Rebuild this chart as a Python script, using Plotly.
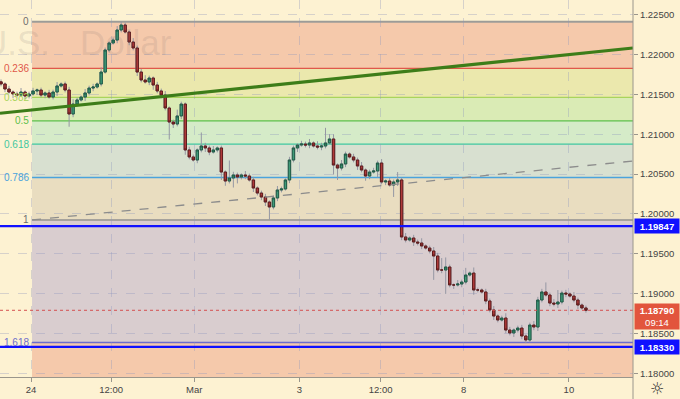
import plotly.graph_objects as go

# ---------------- data ----------------
closes = [
    1.21633, 1.21570, 1.21532, 1.21507, 1.21494, 1.21532, 1.21482, 1.21507, 1.21545, 1.21557,
    1.21494, 1.21520, 1.21469, 1.21532, 1.21608, 1.21633, 1.21557, 1.21256, 1.21381, 1.21432,
    1.21469, 1.21520, 1.21582, 1.21595, 1.21633, 1.21783, 1.22060, 1.22148, 1.22185, 1.22311,
    1.22374, 1.22286, 1.22160, 1.22085, 1.21783, 1.21683, 1.21658, 1.21708, 1.21620, 1.21545,
    1.21494, 1.21331, 1.21155, 1.21130, 1.21231, 1.21381, 1.20804, 1.20716, 1.20678, 1.20804,
    1.20854, 1.20829, 1.20778, 1.20804, 1.20829, 1.20527, 1.20414, 1.20452, 1.20490, 1.20464,
    1.20490, 1.20477, 1.20427, 1.20326, 1.20263, 1.20213, 1.20150, 1.20088, 1.20201, 1.20301,
    1.20314, 1.20427, 1.20678, 1.20829, 1.20866, 1.20879, 1.20866, 1.20892, 1.20854, 1.20841,
    1.20854, 1.20892, 1.20942, 1.20615, 1.20577, 1.20628, 1.20753, 1.20716, 1.20678, 1.20603,
    1.20552, 1.20477, 1.20527, 1.20540, 1.20640, 1.20402, 1.20414, 1.20364, 1.20402, 1.20427,
    1.19711, 1.19673, 1.19698, 1.19648, 1.19635, 1.19598, 1.19572, 1.19535, 1.19472, 1.19296,
    1.19296, 1.19334, 1.19108, 1.19108, 1.19120, 1.19145, 1.19233, 1.19258, 1.19045, 1.19045,
    1.19020, 1.18907, 1.18794, 1.18718, 1.18668, 1.18693, 1.18542, 1.18505, 1.18542, 1.18567,
    1.18467, 1.18417, 1.18605, 1.18580, 1.18919, 1.19020, 1.18982, 1.18881, 1.18869, 1.18894,
    1.19007, 1.18995, 1.18969, 1.18919, 1.18856, 1.18819, 1.18790,
]
first_open = 1.21660

upper_wick_pips = [
    3, 2, 4, 2, 3, 5, 2, 3, 4, 2,
    3, 2, 4, 3, 5, 2, 3, 4, 6, 3,
    2, 5, 3, 4, 2, 6, 3, 2, 3, 5,
    4, 3, 2, 5, 3, 4, 6, 3, 2, 4,
    3, 5, 2, 3, 8, 3, 2, 4, 3, 2,
    17, 4, 3, 5, 2, 3, 2, 22, 4, 3,
    2, 5, 3, 4, 2, 3, 4, 2, 3, 5,
    3, 2, 4, 3, 2, 4, 3, 5, 2, 6,
    4, 19, 6, 6, 2, 5, 3, 2, 4, 3,
    5, 2, 3, 4, 3, 5, 2, 4, 3, 10,
    3, 5, 2, 4, 3, 6, 2, 3, 5, 4,
    15, 12, 3, 2, 5, 3, 9, 2, 7, 3,
    2, 4, 3, 5, 2, 3, 6, 4, 2, 3,
    4, 2, 3, 5, 4, 4, 12, 3, 5, 15,
    3, 4, 2, 5, 3, 2, 3,
]
lower_wick_pips = [
    3, 4, 2, 5, 3, 2, 4, 3, 2, 5,
    3, 4, 2, 3, 5, 2, 3, 16, 4, 3,
    2, 5, 3, 4, 2, 3, 2, 3, 2, 4,
    3, 2, 4, 3, 5, 3, 2, 4, 6, 3,
    4, 3, 22, 5, 3, 4, 6, 3, 2, 4,
    3, 5, 4, 2, 3, 10, 6, 3, 12, 8,
    3, 4, 2, 5, 3, 4, 5, 16, 3, 4,
    3, 2, 4, 3, 5, 2, 3, 4, 2, 3,
    4, 3, 2, 12, 15, 3, 4, 2, 3, 5,
    3, 6, 4, 2, 8, 3, 4, 2, 15, 5,
    4, 3, 2, 5, 3, 4, 2, 3, 30, 3,
    4, 30, 3, 5, 2, 4, 3, 2, 6, 3,
    2, 4, 3, 5, 3, 2, 4, 3, 5, 3,
    4, 4, 3, 4, 5, 3, 2, 4, 3, 5,
    3, 4, 2, 3, 5, 2, 3,
]

fib_high = 1.22416
fib_low = 1.19925
fib_ratios = [0, 0.236, 0.382, 0.5, 0.618, 0.786, 1, 1.618, 2.618]
fib_labels = ["0", "0.236", "0.382", "0.5", "0.618", "0.786", "1", "1.618"]
fib_line_colors = ["#9c9c98", "#e0584a", "#a9d45c", "#5cc04a", "#3fc7a0", "#4aa3dc", "#a6a29c", "#6d6dcc"]
fib_band_colors = ["#f5c9ab", "#ebe8ad", "#daebb5", "#d5ebc8", "#d8e0d0", "#e9ddc0", "#d9cdcf", "#f5c9ab"]
fib_anchor_x = 7.75

trend_start = (-0.25, 1.21265)
trend_end = (157.75, 1.22085)
dashed_start = (7.75, 1.19925)
dashed_end = (157.75, 1.20665)

level_blue_1 = 1.19847
level_blue_2 = 1.18330
last_price = 1.18790
countdown = "09:14"

x_ticks = [7.5, 27.5, 48.25, 74.5, 94.75, 115.5, 141.75]
x_tick_text = ["24", "12:00", "Mar", "3", "12:00", "8", "10"]
y_ticks = [1.180, 1.185, 1.190, 1.195, 1.200, 1.205, 1.210, 1.215, 1.220, 1.225]

x_range = [-0.25, 157.75]
y_range = [1.17952, 1.22688]

# ---------------- derived OHLC ----------------
opens = [first_open] + closes[:-1]
highs = [max(o, c) + w * 0.0001 for o, c, w in zip(opens, closes, upper_wick_pips)]
lows = [min(o, c) - w * 0.0001 for o, c, w in zip(opens, closes, lower_wick_pips)]
body_hi = [max(o, c) for o, c in zip(opens, closes)]
body_lo = [min(o, c) for o, c in zip(opens, closes)]
xs = list(range(len(closes)))

BG = "#fdf2d2"
fig = go.Figure()

# wicks (gray)
fig.add_trace(go.Candlestick(
    x=xs, open=opens, high=highs, low=lows, close=closes,
    increasing=dict(line=dict(color="#9597a3", width=1), fillcolor="#9597a3"),
    decreasing=dict(line=dict(color="#9597a3", width=1), fillcolor="#9597a3"),
    showlegend=False, hoverinfo="skip",
))
# bodies
fig.add_trace(go.Candlestick(
    x=xs, open=opens, high=body_hi, low=body_lo, close=closes,
    increasing=dict(line=dict(color="#1f5a45", width=1), fillcolor="#3f9a78"),
    decreasing=dict(line=dict(color="#5e1c1c", width=1), fillcolor="#b03a3a"),
    showlegend=False, hoverinfo="skip",
))

shapes = []
levels = [fib_high - r * (fib_high - fib_low) for r in fib_ratios]
for i in range(len(levels) - 1):
    shapes.append(dict(type="rect", xref="x", yref="y", x0=fib_anchor_x, x1=x_range[1],
                       y0=levels[i], y1=levels[i + 1], fillcolor=fib_band_colors[i],
                       line=dict(width=0), layer="below"))
for i, lab in enumerate(fib_labels):
    w = 2 if lab in ("0", "1") else 1.3
    shapes.append(dict(type="line", xref="x", yref="y", x0=fib_anchor_x, x1=x_range[1],
                       y0=levels[i], y1=levels[i], line=dict(color=fib_line_colors[i], width=w),
                       layer="below"))

# blue horizontal levels
for lv in (level_blue_1, level_blue_2):
    shapes.append(dict(type="line", xref="paper", yref="y", x0=0, x1=1, y0=lv, y1=lv,
                       line=dict(color="#1010ff", width=2.2), layer="above"))
# current price dotted
shapes.append(dict(type="line", xref="paper", yref="y", x0=0, x1=1, y0=last_price, y1=last_price,
                   line=dict(color="#d45050", width=1, dash="dot"), layer="above"))
# dashed grey line
shapes.append(dict(type="line", xref="x", yref="y", x0=dashed_start[0], y0=dashed_start[1],
                   x1=dashed_end[0], y1=dashed_end[1],
                   line=dict(color="#8c8c8c", width=1.3, dash="dash"), layer="above"))
# green trend line
shapes.append(dict(type="line", xref="x", yref="y", x0=trend_start[0], y0=trend_start[1],
                   x1=trend_end[0], y1=trend_end[1],
                   line=dict(color="#3d7d19", width=3.2), layer="above"))
# right price-scale border extended to bottom
shapes.append(dict(type="line", xref="paper", yref="paper", x0=1, x1=1, y0=-0.06, y1=1,
                   line=dict(color="#9a968c", width=1), layer="above"))

annotations = []
# watermark
annotations.append(dict(text="U.S.", xref="paper", yref="paper", x=52 / 633, y=1 - 43 / 377,
                        xanchor="right", yanchor="middle", showarrow=False,
                        font=dict(size=35, color="rgba(110,100,100,0.14)", family="Liberation Sans, Arial")))
annotations.append(dict(text="Dollar", xref="paper", yref="paper", x=78 / 633, y=1 - 43 / 377,
                        xanchor="left", yanchor="middle", showarrow=False,
                        font=dict(size=35, color="rgba(110,100,100,0.14)", family="Liberation Sans, Arial")))
# fib labels
for i, lab in enumerate(fib_labels):
    annotations.append(dict(text=lab, xref="x", yref="y", x=fib_anchor_x - 0.25, y=levels[i],
                            xanchor="right", yanchor="middle", showarrow=False,
                            font=dict(size=10, color=fib_line_colors[i] if lab not in ("0", "1") else "#6e6e6e",
                                      family="Liberation Sans, Arial")))
# right axis boxes
for lv in (level_blue_1, level_blue_2):
    annotations.append(dict(text="<b>%.5f</b>" % lv, xref="paper", yref="y", x=1, y=lv,
                            xanchor="left", yanchor="middle", xshift=1, showarrow=False,
                            bgcolor="#1010ff", width=42, height=12, borderpad=1,
                            font=dict(size=9.5, color="white", family="Liberation Sans, Arial")))
annotations.append(dict(text="<b>%.5f</b><br>%s" % (last_price, countdown), xref="paper", yref="y",
                        x=1, y=last_price, xanchor="left", yanchor="middle", xshift=1, yshift=-6,
                        showarrow=False, bgcolor="#e2553d", width=42, height=23, borderpad=1,
                        font=dict(size=9.5, color="white", family="Liberation Sans, Arial")))
# gear icon
annotations.append(dict(text="☼", xref="paper", yref="paper", x=657 / 633, y=-11 / 377,
                        xanchor="center", yanchor="middle", showarrow=False,
                        font=dict(size=16, color="#333333", family="DejaVu Sans")))

fig.update_layout(
    width=680, height=399,
    margin=dict(l=0, r=47, t=0, b=22),
    paper_bgcolor=BG, plot_bgcolor=BG,
    shapes=shapes, annotations=annotations,
    showlegend=False,
    boxgap=0.15,
    xaxis=dict(range=x_range, rangeslider=dict(visible=False), tickmode="array",
               tickvals=x_ticks, ticktext=x_tick_text, showgrid=True,
               gridcolor="rgba(140,150,190,0.35)", griddash="dash", gridwidth=1,
               ticks="outside", ticklen=4, tickcolor="#9a968c",
               showline=True, linecolor="#9a968c", zeroline=False,
               tickfont=dict(size=9.5, color="#444444", family="Liberation Sans, Arial")),
    yaxis=dict(range=y_range, side="right", tickmode="array", tickvals=y_ticks,
               tickformat=".5f", showgrid=True, gridcolor="rgba(140,150,190,0.35)",
               griddash="dash", gridwidth=1, ticks="outside", ticklen=4, tickcolor="#9a968c",
               showline=False, zeroline=False,
               tickfont=dict(size=9.5, color="#444444", family="Liberation Sans, Arial")),
)

fig.write_html("out.html")
